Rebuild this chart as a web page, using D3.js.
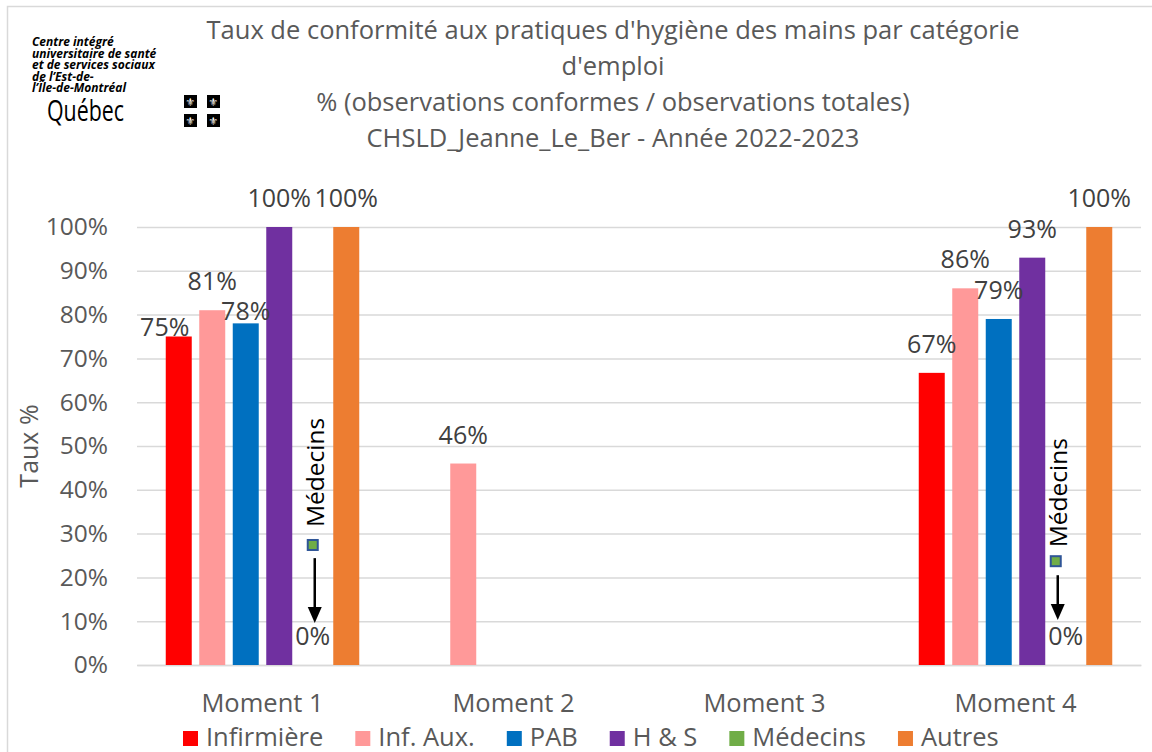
<!DOCTYPE html>
<html><head><meta charset="utf-8">
<script src="https://cdn.jsdelivr.net/npm/d3@7"></script>
<style>
html,body{margin:0;padding:0;background:#fff;}
svg{display:block;font-family:"Open Sans","Noto Sans",sans-serif;}
</style></head>
<body>
<svg id="chart" width="1152" height="752"></svg>
<script>
// ---- data ----
const titleLines = ["Taux de conformité aux pratiques d'hygiène des mains par catégorie",
  "d'emploi", "% (observations conformes / observations totales)", "CHSLD_Jeanne_Le_Ber - Année 2022-2023"];
const categories = ["Moment 1", "Moment 2", "Moment 3", "Moment 4"];
const seriesNames = ["Infirmière", "Inf. Aux.", "PAB", "H & S", "Médecins", "Autres"];
const infirmiere = [0.75, null, null, 0.667];
const infAux     = [0.81, 0.46, null, 0.86];
const pab        = [0.78, null, null, 0.79];
const hs         = [1.00, null, null, 0.93];
const medecins   = [0.00, null, null, 0.00];
const autres     = [1.00, null, null, 1.00];
const yTicks = [0, 0.1, 0.2, 0.3, 0.4, 0.5, 0.6, 0.7, 0.8, 0.9, 1.0];
const logoLines = ["Centre intégré", "universitaire de santé", "et de services sociaux", "de l’Est-de-", "l’Île-de-Montréal"];
const annotations = [
  {cat: "Moment 1", label: "Médecins", textStart: 0.315, marker: 0.274, arrowFrom: 0.244, arrowTo: 0.096, shift: 0},
  {cat: "Moment 4", label: "Médecins", textStart: 0.269, marker: 0.237, arrowFrom: 0.205, arrowTo: 0.103, shift: -10}
];
// manual label nudges (Excel labels moved by hand)
const labelNudge = {"Infirmière|Moment 1": [-14, 19], "PAB|Moment 1": [0, 17]};

const colors = {"Infirmière":"#FF0000","Inf. Aux.":"#FF9999","PAB":"#0070C0","H & S":"#7030A0","Médecins":"#70AD47","Autres":"#ED7D31"};
const seriesValues = [infirmiere, infAux, pab, hs, medecins, autres];

const svg = d3.select("#chart");
const W = 1152, H = 752;
const plot = {left: 137, right: 1141, top: 227, bottom: 665};

// chart border
svg.append("path").attr("d", `M7.5,${H} V6.5 H${W}`).attr("fill","none").attr("stroke","#d9d9d9").attr("stroke-width",1.5);

const x0 = d3.scaleBand().domain(categories).range([plot.left, plot.right]).paddingInner(0).paddingOuter(0);
const x1 = d3.scaleBand().domain(seriesNames).range([28.75, x0.bandwidth() - 28.75]).paddingInner(0.224).paddingOuter(0);
const y = d3.scaleLinear().domain([0, 1]).range([plot.bottom, plot.top]);
const fmt = d3.format(".0%");

// gridlines
const yAxis = d3.axisLeft(y).tickValues(yTicks).tickFormat(fmt).tickSize(-(plot.right - plot.left)).tickPadding(29);
const gy = svg.append("g").attr("transform", `translate(${plot.left},0)`).call(yAxis);
gy.select(".domain").remove();
gy.selectAll(".tick line").attr("stroke", "#d9d9d9").attr("stroke-width", 1.5);
gy.selectAll(".tick text").attr("fill", "#595959").style("font-size", "24.5px").style("font-family", "'Open Sans'");

// x axis
const xAxis = d3.axisBottom(x0).tickSize(0).tickPadding(29);
const gx = svg.append("g").attr("transform", `translate(0,${plot.bottom})`).call(xAxis);
gx.select(".domain").attr("stroke", "#d9d9d9").attr("stroke-width", 1.5);
gx.selectAll(".tick text").attr("fill", "#595959").style("font-size", "25.5px").style("font-family", "'Open Sans'");

// bars
const rows = [];
seriesNames.forEach((s, i) => categories.forEach((c, j) => {
  const v = seriesValues[i][j];
  if (v !== null) rows.push({s, c, v});
}));
svg.append("g").selectAll("rect").data(rows).join("rect")
  .attr("x", d => x0(d.c) + x1(d.s))
  .attr("y", d => y(d.v))
  .attr("width", x1.bandwidth())
  .attr("height", d => y(0) - y(d.v))
  .attr("fill", d => colors[d.s]);

// data labels
svg.append("g").selectAll("text").data(rows).join("text")
  .attr("x", d => x0(d.c) + x1(d.s) + x1.bandwidth()/2 + ((labelNudge[d.s+"|"+d.c]||[0,0])[0]))
  .attr("y", d => y(d.v) - 20 + ((labelNudge[d.s+"|"+d.c]||[0,0])[1]))
  .attr("text-anchor", "middle")
  .attr("fill", "#404040")
  .style("font-size", "25px")
  .text(d => fmt(d.v));

// annotations
const ag = svg.append("g");
annotations.forEach(a => {
  const cx = x0(a.cat) + x1("Médecins") + x1.bandwidth()/2 + a.shift;
  ag.append("text")
    .attr("transform", `translate(${cx + 11},${y(a.textStart)}) rotate(-90)`)
    .attr("fill", "#000").style("font-size", "24.5px").text(a.label);
  ag.append("rect").attr("x", cx - 5).attr("y", y(a.marker) - 5).attr("width", 10).attr("height", 10)
    .attr("fill", "#70AD47").attr("stroke", "#2F5597").attr("stroke-width", 2);
  const ax = cx + 2;
  ag.append("line").attr("x1", ax).attr("x2", ax).attr("y1", y(a.arrowFrom)).attr("y2", y(a.arrowTo) - 12)
    .attr("stroke", "#000").attr("stroke-width", 2.5);
  ag.append("path").attr("d", `M${ax-7},${y(a.arrowTo)-16} L${ax+7},${y(a.arrowTo)-16} L${ax},${y(a.arrowTo)} Z`).attr("fill", "#000");
});

// title
svg.append("g").selectAll("text").data(titleLines).join("text")
  .attr("x", 613).attr("y", (d, i) => 39 + i * 36)
  .attr("text-anchor", "middle").attr("fill", "#595959")
  .style("font-size", "25.5px").text(d => d);

// y axis title
svg.append("text").attr("transform", `translate(38,${(plot.top + plot.bottom)/2}) rotate(-90)`)
  .attr("text-anchor", "middle").attr("fill", "#595959").style("font-size", "25px").text("Taux %");

// legend
const lg = svg.append("g");
let lx = 183;
seriesNames.forEach(s => {
  lg.append("rect").attr("x", lx).attr("y", 731).attr("width", 15).attr("height", 15).attr("fill", colors[s]);
  const t = lg.append("text").attr("x", lx + 23).attr("y", 746).attr("fill", "#595959").style("font-size", "25.5px").text(s);
  lx += 23 + t.node().getComputedTextLength() + 32;
});

// logo (one multi-line text block)
const logo = svg.append("g");
const lt = logo.append("text").attr("x", 32).attr("y", 46)
  .style("font-size", "12px").style("font-weight", "bold").style("font-style", "italic").attr("fill", "#000");
lt.selectAll("tspan").data(logoLines).join("tspan")
  .attr("x", 32).attr("dy", (d, i) => i === 0 ? 0 : 11.6).text(d => d);
logo.append("text").attr("x", 47).attr("y", 121).style("font-size", "29px").attr("fill", "#000")
  .attr("textLength", 77).attr("lengthAdjust", "spacingAndGlyphs").text("Québec");
[[184,95],[207,95],[184,114],[207,114]].forEach(p => {
  logo.append("rect").attr("x", p[0]).attr("y", p[1]).attr("width", 13).attr("height", 13).attr("fill", "#000");
  logo.append("text").attr("x", p[0] + 6.5).attr("y", p[1] + 10.5).attr("text-anchor", "middle")
    .style("font-size", "11px").style("font-family", "'DejaVu Sans'").attr("fill", "#fff").text("⚜");
});
</script>
</body></html>
